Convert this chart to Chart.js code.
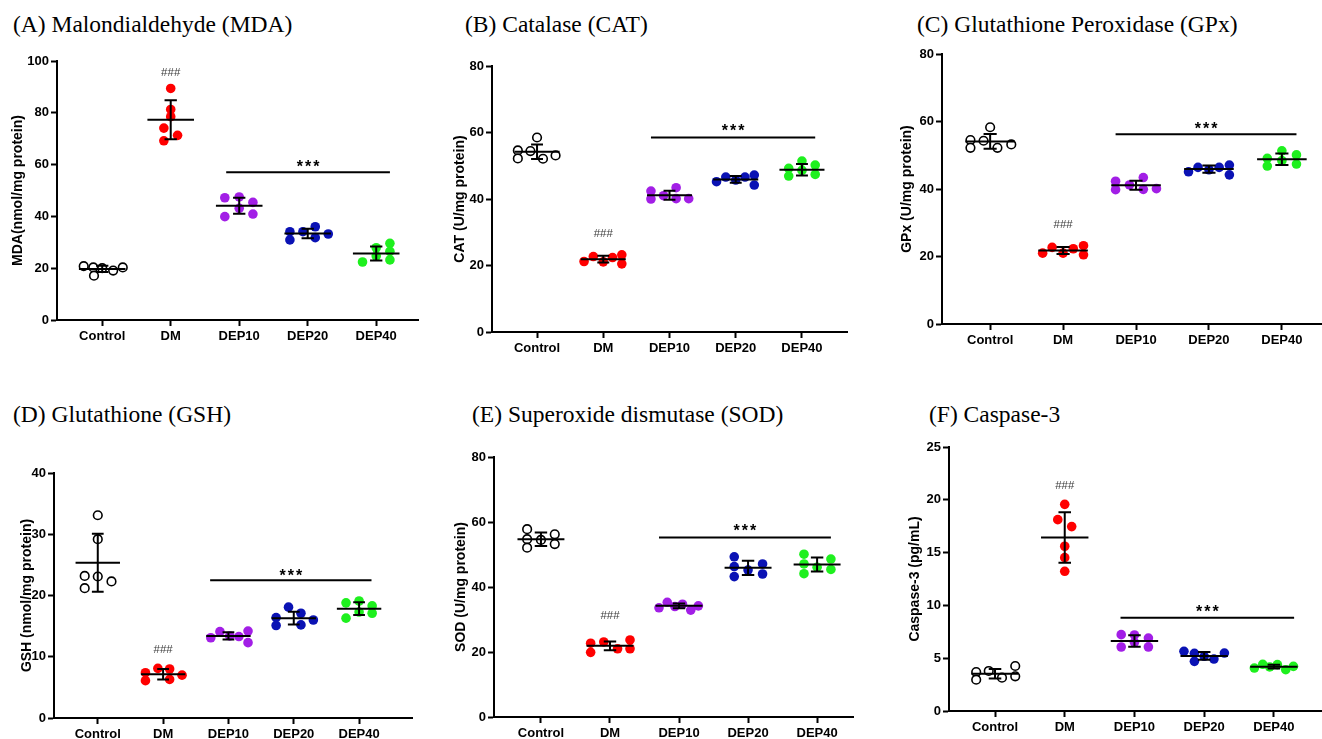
<!DOCTYPE html>
<html>
<head>
<meta charset="utf-8">
<title>Oxidative stress markers</title>
<script src="https://cdn.jsdelivr.net/npm/chart.js@4.4.1/dist/chart.umd.min.js"></script>
<style>
  html, body { margin: 0; padding: 0; background: #fff; overflow: hidden; }
  body { width: 1322px; height: 739px; position: relative; }
  canvas { position: absolute; }
  .panel-title {
    position: absolute;
    font-family: "Liberation Serif", "Times New Roman", serif;
    font-size: 23.5px;
    line-height: 1;
    color: #000;
    white-space: nowrap;
  }
</style>
</head>
<body>
<div class="panel-title" style="left:13px; top:13px;">(A) Malondialdehyde (MDA)</div>
<div class="panel-title" style="left:465px; top:13px;">(B) Catalase (CAT)</div>
<div class="panel-title" style="left:917px; top:13px;">(C) Glutathione Peroxidase (GPx)</div>
<div class="panel-title" style="left:13px; top:403px;">(D) Glutathione (GSH)</div>
<div class="panel-title" style="left:472px; top:403px;">(E) Superoxide dismutase (SOD)</div>
<div class="panel-title" style="left:929px; top:403px;">(F) Caspase-3</div>

<canvas id="chartA"></canvas>
<canvas id="chartB"></canvas>
<canvas id="chartC"></canvas>
<canvas id="chartD"></canvas>
<canvas id="chartE"></canvas>
<canvas id="chartF"></canvas>

<script>
const groups = ['Control', 'DM', 'DEP10', 'DEP20', 'DEP40'];

// (A) MDA
const mdaValues = [
    [20.8, 20.3, 17.1, 20.0, 19.1, 20.3],
    [89.4, 81.3, 78.5, 74.1, 71.3, 69.2],
    [47.2, 47.5, 43.1, 45.4, 39.9, 40.9],
    [34.1, 30.9, 34.1, 36.0, 31.8, 33.2],
    [22.4, 27.9, 24.7, 29.6, 26.5, 23.2]
];
const mdaJitter = [
    [-0.27, -0.13, -0.12, 0, 0.16, 0.30],
    [0, 0, 0, -0.1, 0.1, -0.1],
    [-0.21, 0, 0, 0.2, -0.21, 0.2],
    [-0.26, -0.26, -0.07, 0.11, 0.11, 0.3],
    [-0.2, 0, 0, 0.2, 0.2, 0.2]
];
const mdaMean = [19.7, 77.3, 44.1, 33.4, 25.7];
const mdaSD = [1.2, 7.5, 3.1, 1.8, 2.7];
const mdaTicks = [0, 20, 40, 60, 80, 100];
const mdaSig = [1.81, 4.2, 57, 60.5, 95.8]; // from, to, line y, stars y, ### y

// (B) CAT
const catValues = [
    [54.6, 52.2, 54.4, 58.5, 52.1, 53.1],
    [21.2, 22.7, 21.1, 22.4, 23.2, 20.5],
    [42.4, 40.0, 41.0, 43.4, 40.1, 40.1],
    [45.2, 46.6, 45.7, 46.6, 47.2, 44.2],
    [49.2, 46.9, 51.4, 48.6, 50.2, 47.4]
];
const catJitter = [
    [-0.29, -0.29, -0.1, 0, 0.09, 0.28],
    [-0.29, -0.15, 0, 0.14, 0.28, 0.28],
    [-0.28, -0.28, -0.09, 0.1, 0.1, 0.29],
    [-0.29, -0.15, 0, 0.14, 0.28, 0.28],
    [-0.2, -0.2, 0, 0, 0.2, 0.2]
];
const catMean = [54.2, 21.9, 41.1, 45.9, 48.8];
const catSD = [2.2, 1.0, 1.35, 1.05, 1.7];
const catTicks = [0, 20, 40, 60, 80];
const catSig = [1.72, 4.2, 58.5, 61.5, 29.7];

// (C) GPx
const gpxValues = [
    [54.5, 52.2, 54.3, 58.3, 52.2, 53.2],
    [21.0, 22.7, 21.0, 22.3, 23.2, 20.5],
    [42.3, 39.8, 41.2, 43.4, 39.9, 40.1],
    [45.1, 46.4, 45.7, 46.4, 47.1, 44.2],
    [49.1, 46.8, 51.3, 48.4, 50.1, 47.4]
];
const gpxJitter = [
    [-0.27, -0.27, -0.09, 0, 0.1, 0.29],
    [-0.28, -0.15, 0, 0.14, 0.28, 0.28],
    [-0.28, -0.28, -0.09, 0.1, 0.1, 0.28],
    [-0.28, -0.15, 0, 0.14, 0.28, 0.28],
    [-0.2, -0.2, 0, 0, 0.2, 0.2]
];
const gpxMean = [54.1, 21.8, 41.1, 45.9, 48.8];
const gpxSD = [2.2, 1.05, 1.35, 1.05, 1.7];
const gpxTicks = [0, 20, 40, 60, 80];
const gpxSig = [1.72, 4.2, 56.2, 59.0, 29.6];

// (D) GSH
const gshValues = [
    [33.1, 29.2, 23.2, 23.1, 21.2, 22.3],
    [7.4, 6.1, 8.1, 8.0, 6.3, 7.0],
    [13.1, 14.1, 13.4, 13.3, 14.2, 12.3],
    [16.4, 15.1, 18.1, 17.1, 15.2, 16.0],
    [18.8, 16.3, 19.1, 17.3, 18.3, 17.1]
];
const gshJitter = [
    [0, 0, -0.2, 0, -0.2, 0.21],
    [-0.27, -0.27, -0.08, 0.1, 0.1, 0.29],
    [-0.27, -0.13, 0.02, 0.16, 0.3, 0.3],
    [-0.27, -0.27, -0.08, 0.11, 0.11, 0.3],
    [-0.2, -0.2, 0, 0, 0.2, 0.2]
];
const gshMean = [25.35, 7.15, 13.4, 16.3, 17.85];
const gshSD = [4.75, 0.85, 0.6, 1.05, 1.05];
const gshTicks = [0, 10, 20, 30, 40];
const gshSig = [1.72, 4.19, 22.5, 23.9, 11.3];

// (E) SOD
const sodValues = [
    [57.8, 54.7, 52.1, 54.5, 56.2, 53.2],
    [22.7, 19.9, 23.1, 21.0, 23.7, 21.0],
    [33.6, 35.3, 34.0, 34.7, 32.9, 34.2],
    [49.3, 46.3, 43.2, 45.2, 47.1, 44.0],
    [50.1, 47.1, 44.1, 46.1, 48.6, 45.4]
];
const sodJitter = [
    [-0.2, -0.2, -0.2, 0, 0.2, 0.2],
    [-0.28, -0.28, -0.09, 0.11, 0.29, 0.29],
    [-0.29, -0.17, -0.06, 0.05, 0.17, 0.28],
    [-0.2, -0.2, -0.2, 0, 0.21, 0.21],
    [-0.19, -0.19, -0.19, 0, 0.2, 0.2]
];
const sodMean = [54.7, 21.9, 34.2, 45.9, 46.9];
const sodSD = [2.1, 1.35, 0.7, 2.2, 2.15];
const sodTicks = [0, 20, 40, 60, 80];
const sodSig = [1.71, 4.2, 55.2, 58.3, 31.5];

// (F) Caspase-3
const caspValues = [
    [3.69, 2.97, 3.79, 3.16, 4.26, 3.28],
    [19.57, 18.12, 17.46, 15.6, 14.52, 13.23],
    [7.23, 6.06, 7.2, 6.5, 6.91, 6.06],
    [5.65, 5.46, 4.7, 5.18, 4.92, 5.49],
    [4.07, 4.42, 4.17, 4.39, 3.91, 4.23]
];
const caspJitter = [
    [-0.27, -0.27, -0.09, 0.1, 0.29, 0.29],
    [0, -0.1, 0.1, 0, 0, 0],
    [-0.19, -0.19, 0, 0, 0.2, 0.2],
    [-0.29, -0.14, -0.14, 0, 0.14, 0.29],
    [-0.28, -0.16, -0.06, 0.05, 0.17, 0.28]
];
const caspMean = [3.52, 16.43, 6.63, 5.22, 4.2];
const caspSD = [0.45, 2.38, 0.54, 0.37, 0.18];
const caspTicks = [0, 5, 10, 15, 20, 25];
const caspSig = [1.8, 4.29, 8.84, 9.72, 21.4];

const groupColors = ['#ffffff', '#ff0000', '#a21ee6', '#0a12b4', '#1ef01e'];
const AXIS_FONT = '"Liberation Sans", Arial, sans-serif';

// where each plot sits on the page (pixels)
const panelLayout = {
    chartA: { axisX: 57,  axisRight: 418,  yTop: 61,  yBottom: 320, titleCX: 18,  xMin: -0.66, xMax: 4.61 },
    chartB: { axisX: 492, axisRight: 847,  yTop: 66,  yBottom: 332, titleCX: 460, xMin: -0.68, xMax: 4.68 },
    chartC: { axisX: 942, axisRight: 1322, yTop: 54,  yBottom: 324, titleCX: 907, xMin: -0.66, xMax: 4.55 },
    chartD: { axisX: 54,  axisRight: 412,  yTop: 473, yBottom: 718, titleCX: 27,  xMin: -0.67, xMax: 4.81 },
    chartE: { axisX: 494, axisRight: 853,  yTop: 457, yBottom: 717, titleCX: 461, xMin: -0.68, xMax: 4.52 },
    chartF: { axisX: 949, axisRight: 1322, yTop: 447, yBottom: 711, titleCX: 915, xMin: -0.66, xMax: 4.69 }
};

const marksPlugin = {
    id: 'marks',
    afterDatasetsDraw(chart, args, opts) {
        const { ctx, scales: { x, y } } = chart;
        const sig = opts.sig;
        ctx.save();
        ctx.textAlign = 'center';
        ctx.textBaseline = 'alphabetic';
        ctx.fillStyle = '#404040';
        ctx.font = '11.5px ' + AXIS_FONT;
        ctx.fillText('###', x.getPixelForValue(1), y.getPixelForValue(sig[4]) + 0.36 * 11.5);
        ctx.fillStyle = '#000';
        ctx.font = 'bold 16px ' + AXIS_FONT;
        ctx.letterSpacing = '2px';
        ctx.fillText('***', x.getPixelForValue((sig[0] + sig[1]) / 2) + 1, y.getPixelForValue(sig[3]) + 0.56 * 16);
        ctx.restore();
    }
};

function buildPanel(id, spec) {
    const lay = panelLayout[id];
    const left = lay.axisX - 60;
    const top = lay.yTop - 40;
    const canvas = document.getElementById(id);
    canvas.width = lay.axisRight + 10 - left;
    canvas.height = lay.yBottom + 40 - top;
    canvas.style.left = left + 'px';
    canvas.style.top = top + 'px';

    const pointSets = groups.map((g, i) => ({
        label: g,
        data: spec.values[i].map((v, j) => ({ x: i + spec.jitter[i][j], y: v })),
        pointRadius: i === 0 ? 4.3 : 4.8,
        pointBorderWidth: i === 0 ? 1.6 : 0,
        pointBackgroundColor: groupColors[i],
        pointBorderColor: i === 0 ? '#000' : groupColors[i],
        order: 2
    }));

    const meanData = [];
    const sdData = [];
    spec.mean.forEach((m, i) => {
        const hi = m + spec.sd[i];
        const lo = m - spec.sd[i];
        meanData.push({ x: i - 0.34, y: m }, { x: i + 0.34, y: m }, { x: i, y: null });
        sdData.push(
            { x: i, y: lo }, { x: i, y: hi }, { x: i, y: null },
            { x: i - 0.09, y: hi }, { x: i + 0.09, y: hi }, { x: i, y: null },
            { x: i - 0.09, y: lo }, { x: i + 0.09, y: lo }, { x: i, y: null }
        );
    });

    const lineStyle = {
        showLine: true,
        pointRadius: 0,
        borderColor: '#000',
        borderWidth: 2,
        spanGaps: false,
        order: 0
    };

    const gridStyle = {
        display: true,
        drawOnChartArea: false,
        drawTicks: true,
        tickLength: 6,
        tickWidth: 2,
        tickColor: '#000'
    };

    new Chart(canvas, {
        type: 'scatter',
        data: {
            datasets: [
                ...pointSets,
                { label: 'mean', data: meanData, ...lineStyle },
                { label: 'sd', data: sdData, ...lineStyle },
                { label: 'sig', data: [{ x: spec.sig[0], y: spec.sig[2] }, { x: spec.sig[1], y: spec.sig[2] }], ...lineStyle }
            ]
        },
        options: {
            responsive: false,
            devicePixelRatio: 1,
            animation: false,
            events: [],
            layout: { padding: { top: 40, right: 10, bottom: 0, left: 0 } },
            scales: {
                x: {
                    type: 'linear',
                    min: lay.xMin,
                    max: lay.xMax,
                    afterBuildTicks: axis => { axis.ticks = groups.map((_, i) => ({ value: i })); },
                    afterFit: scale => { scale.height = 40; },
                    ticks: {
                        autoSkip: false,
                        maxRotation: 0,
                        minRotation: 0,
                        padding: 3,
                        color: '#000',
                        font: { family: AXIS_FONT, size: 13, weight: 'bold' },
                        callback: v => groups[Math.round(v)]
                    },
                    grid: gridStyle,
                    border: { display: true, color: '#000', width: 2 }
                },
                y: {
                    min: 0,
                    max: spec.ticks[spec.ticks.length - 1],
                    afterBuildTicks: axis => { axis.ticks = spec.ticks.map(v => ({ value: v })); },
                    afterFit: scale => { scale.width = 60; },
                    ticks: {
                        padding: 2,
                        color: '#000',
                        font: { family: AXIS_FONT, size: 13, weight: 'bold' }
                    },
                    title: {
                        display: true,
                        text: spec.yTitle,
                        color: '#000',
                        font: { family: AXIS_FONT, size: 14, weight: 'bold', lineHeight: 1.2 },
                        padding: { top: lay.titleCX - lay.axisX + 60 - 8.4, bottom: 0 }
                    },
                    grid: gridStyle,
                    border: { display: true, color: '#000', width: 2 }
                }
            },
            plugins: {
                legend: { display: false },
                tooltip: { enabled: false },
                marks: { sig: spec.sig }
            }
        },
        plugins: [marksPlugin]
    });
}

buildPanel('chartA', { values: mdaValues, jitter: mdaJitter, mean: mdaMean, sd: mdaSD, ticks: mdaTicks, sig: mdaSig, yTitle: 'MDA(nmol/mg protein)' });
buildPanel('chartB', { values: catValues, jitter: catJitter, mean: catMean, sd: catSD, ticks: catTicks, sig: catSig, yTitle: 'CAT (U/mg protein)' });
buildPanel('chartC', { values: gpxValues, jitter: gpxJitter, mean: gpxMean, sd: gpxSD, ticks: gpxTicks, sig: gpxSig, yTitle: 'GPx (U/mg protein)' });
buildPanel('chartD', { values: gshValues, jitter: gshJitter, mean: gshMean, sd: gshSD, ticks: gshTicks, sig: gshSig, yTitle: 'GSH (nmol/mg protein)' });
buildPanel('chartE', { values: sodValues, jitter: sodJitter, mean: sodMean, sd: sodSD, ticks: sodTicks, sig: sodSig, yTitle: 'SOD (U/mg protein)' });
buildPanel('chartF', { values: caspValues, jitter: caspJitter, mean: caspMean, sd: caspSD, ticks: caspTicks, sig: caspSig, yTitle: 'Caspase-3 (pg/mL)' });
</script>
</body>
</html>
